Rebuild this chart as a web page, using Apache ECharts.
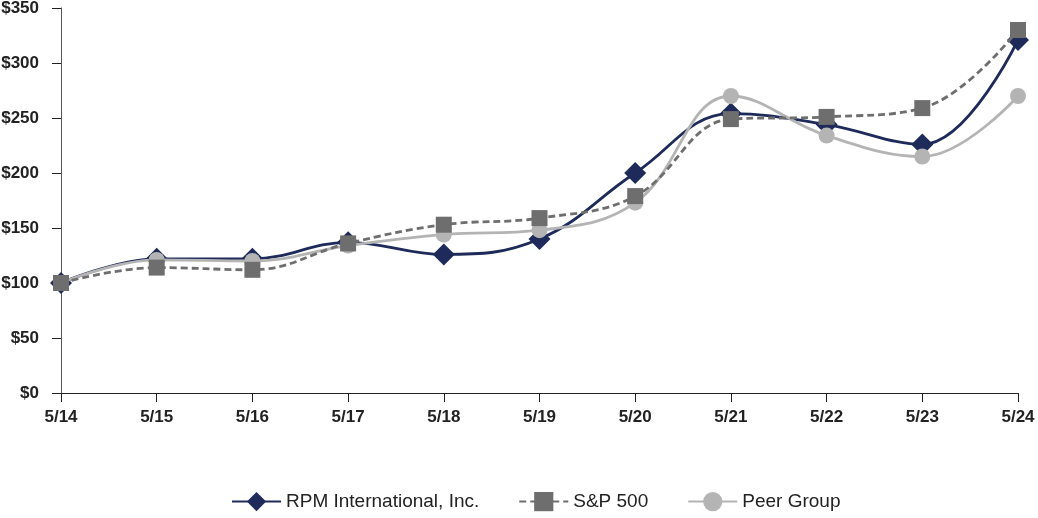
<!DOCTYPE html>
<html>
<head>
<meta charset="utf-8">
<title>Cumulative total return</title>
<script src="https://cdn.jsdelivr.net/npm/echarts@6/dist/echarts.min.js"></script>
<style>
  html, body { margin: 0; padding: 0; background: #fff; }
  #chart { width: 1038px; height: 518px; }
</style>
</head>
<body>
<div id="chart"></div>
<script>
var years = ['5/14', '5/15', '5/16', '5/17', '5/18', '5/19', '5/20', '5/21', '5/22', '5/23', '5/24'];
var rpm = [100, 122, 122, 137, 126, 140, 200, 254, 244, 226, 321];
var sp500 = [100, 114, 112, 136, 153, 159, 179, 249, 251, 259, 330];
var peer = [100, 121, 120, 134, 144, 148, 173, 270, 234, 215, 270];

var chart = echarts.init(document.getElementById('chart'));
var textFont = '"Liberation Sans", Arial, sans-serif';

var option = {
    animation: false,
    grid: { left: 61, right: 20, top: 8, bottom: 125, outerBoundsMode: 'none' },
    legend: {
        data: ['RPM International, Inc.', 'S&P 500', 'Peer Group'],
        top: 492,
        left: 231,
        padding: 0,
        itemWidth: 49,
        itemHeight: 24,
        itemGap: 39,
        textStyle: { fontFamily: textFont, fontSize: 19, color: '#222' }
    },
    xAxis: {
        type: 'category',
        data: years,
        boundaryGap: false,
        axisLine: { lineStyle: { color: '#222', width: 1 } },
        axisTick: { alignWithLabel: true, length: 9, lineStyle: { color: '#222' } },
        axisLabel: { fontFamily: textFont, fontWeight: 'bold', fontSize: 17, color: '#222', margin: 16 }
    },
    yAxis: {
        type: 'value',
        min: 0,
        max: 350,
        interval: 50,
        axisLine: { show: true, lineStyle: { color: '#555', width: 1 } },
        axisTick: { show: true, length: 9, lineStyle: { color: '#222' } },
        splitLine: { show: false },
        axisLabel: {
            fontFamily: textFont, fontWeight: 'bold', fontSize: 17, color: '#222', margin: 22,
            formatter: function (v) { return '$' + v; }
        }
    },
    series: [
        {
            name: 'RPM International, Inc.',
            type: 'line',
            data: rpm,
            smooth: 0.4,
            symbol: 'diamond',
            symbolSize: 22,
            lineStyle: { color: '#1e2b5a', width: 2.8 },
            itemStyle: { color: '#1e2b5a' },
            z: 2
        },
        {
            name: 'Peer Group',
            type: 'line',
            data: peer,
            smooth: 0.4,
            symbol: 'circle',
            symbolSize: 16,
            lineStyle: { color: '#b4b4b4', width: 2.8 },
            itemStyle: { color: '#b4b4b4' },
            z: 3
        },
        {
            name: 'S&P 500',
            type: 'line',
            data: sp500,
            smooth: 0.4,
            symbol: 'rect',
            symbolSize: 16,
            lineStyle: { color: '#6e6e6e', width: 2.8, type: [7, 4] },
            itemStyle: { color: '#6e6e6e' },
            z: 4
        }
    ]
};

chart.setOption(option);
</script>
</body>
</html>
